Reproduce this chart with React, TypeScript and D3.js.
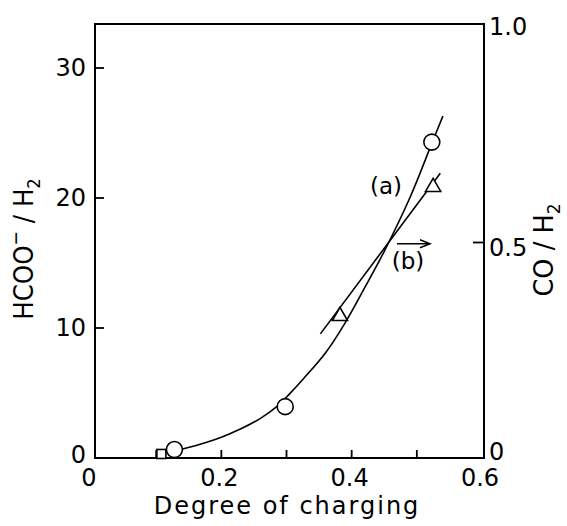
import React from 'react';
import * as d3 from 'd3';

// ---- data ----
const xTicks = [0.1, 0.2, 0.3, 0.4, 0.5];
const xTickLabels = [0, 0.2, 0.4, 0.6];
const leftTicks = [10, 20, 30];
const leftTickLabels = [0, 10, 20, 30];
const rightTicks = [0.5];
const rightTickLabels = [0, 0.5, 1.0];

// HCOO-/H2 (left axis), open circles
const circleX = [0.128, 0.298, 0.523];
const circleY = [0.65, 3.95, 24.3];
// open square (left axis)
const squareX = [0.108];
const squareY = [0.31];
// CO/H2 (right axis), open triangles
const triX = [0.382, 0.525];
const triY = [0.33, 0.628];

// curve (a) (left axis)
const curveAX = [0.128, 0.16, 0.2, 0.23, 0.26, 0.285, 0.305, 0.326, 0.36, 0.39, 0.42, 0.45, 0.49, 0.523, 0.54];
const curveAY = [0.55, 0.95, 1.6, 2.25, 3.05, 3.95, 4.95, 6.1, 8.1, 10.4, 13.1, 15.9, 20.1, 24.2, 26.3];
// line (b), right axis
const lineBX = [0.352, 0.536];
const lineBY = [0.289, 0.66];

// annotations
const labelA = { x: 0.4527, y: 20.85, text: '(a)' };
const labelB = { x: 0.4864, y: 0.455, text: '(b)' };
const arrowB = { x0: 0.4695, x1: 0.5202, y: 0.497 };

const W = 567;
const H = 526;
const FRAME = { l: 95, r: 484, t: 24, b: 458 };
const FONT = 'DejaVu Sans';
// vertical nudges of tick labels (px), as typeset in the original
const leftLabelNudge = [-3, 0, 0, 0];
const rightLabelNudge = [-7, 5, 1];

export default function App() {
  const x = d3.scaleLinear().domain([0, 0.6]).range([91, 482]);
  const yL = d3.scaleLinear().domain([0, 30]).range([458, 68]);
  const yR = d3.scaleLinear().domain([0, 1]).range([459, 26]);

  const curveA = d3
    .line<number>()
    .x((_, i) => x(curveAX[i]))
    .y((_, i) => yL(curveAY[i]))
    .curve(d3.curveCatmullRom.alpha(0.5))(curveAX);
  const lineB = d3
    .line<number>()
    .x((_, i) => x(lineBX[i]))
    .y((_, i) => yR(lineBY[i]))(lineBX);

  const tri = d3.symbol(d3.symbolTriangle, 100)();

  const ax0 = x(arrowB.x0);
  const ax1 = x(arrowB.x1);
  const ay = yR(arrowB.y);

  return (
    <svg width={W} height={H} style={{ display: 'block', position: 'absolute', left: 0, top: 0 }}>
      <rect x={0} y={0} width={W} height={H} fill="#fff" />
      <g fontFamily={FONT} fill="#000">
        {/* frame */}
        <rect
          x={FRAME.l}
          y={FRAME.t}
          width={FRAME.r - FRAME.l}
          height={FRAME.b - FRAME.t}
          fill="none"
          stroke="#000"
          strokeWidth={2}
        />
        {/* ticks */}
        {xTicks.map((t) => (
          <line key={'xt' + t} x1={x(t)} x2={x(t)} y1={FRAME.b} y2={FRAME.b - 8} stroke="#000" strokeWidth={1.8} />
        ))}
        {leftTicks.map((t) => (
          <line key={'lt' + t} x1={FRAME.l} x2={FRAME.l + 9} y1={yL(t)} y2={yL(t)} stroke="#000" strokeWidth={1.8} />
        ))}
        {rightTicks.map((t) => (
          <line key={'rt' + t} x1={FRAME.r} x2={FRAME.r - 11} y1={yR(t)} y2={yR(t)} stroke="#000" strokeWidth={1.8} />
        ))}
        {/* tick labels */}
        {xTickLabels.map((t) => (
          <text key={'xl' + t} x={x(t) - 2} y={485.5} fontSize={24} textAnchor="middle">
            {String(t)}
          </text>
        ))}
        {leftTickLabels.map((t, i) => (
          <text key={'ll' + t} x={86} y={yL(t) + leftLabelNudge[i]} dy="0.35em" fontSize={24} textAnchor="end">
            {String(t)}
          </text>
        ))}
        {rightTickLabels.map((t, i) => (
          <text key={'rl' + t} x={489} y={yR(t) + rightLabelNudge[i]} dy="0.35em" fontSize={24} textAnchor="start">
            {t === 1 ? '1.0' : String(t)}
          </text>
        ))}
        {/* axis titles */}
        <text x={287} y={514} fontSize={24} textAnchor="middle" letterSpacing={2}>
          Degree of charging
        </text>
        <text transform="translate(33,249) rotate(-90) scale(0.91,1)" fontSize={27} textAnchor="middle">
          HCOO
          <tspan fontSize={19} dy={-11}>−</tspan>
          <tspan fontSize={27} dy={11}> / H</tspan>
          <tspan fontSize={18} dy={7}>2</tspan>
        </text>
        <text transform="translate(553,250) rotate(-90) scale(0.95,1)" fontSize={27} textAnchor="middle">
          CO / H
          <tspan fontSize={18} dy={7}>2</tspan>
        </text>

        {/* curves */}
        <path d={curveA || ''} fill="none" stroke="#000" strokeWidth={1.6} />
        <path d={lineB || ''} fill="none" stroke="#000" strokeWidth={1.6} />

        {/* markers */}
        {squareX.map((v, i) => (
          <rect
            key={'sq' + i}
            x={x(v) - 4.5}
            y={yL(squareY[i]) - 4.5}
            width={9}
            height={9}
            fill="#fff"
            stroke="#000"
            strokeWidth={1.6}
          />
        ))}
        {circleX.map((v, i) => (
          <circle key={'c' + i} cx={x(v)} cy={yL(circleY[i])} r={8} fill="#fff" stroke="#000" strokeWidth={1.6} />
        ))}
        {triX.map((v, i) => (
          <path
            key={'t' + i}
            d={tri || ''}
            transform={`translate(${x(v)},${yR(triY[i])})`}
            fill="#fff"
            stroke="#000"
            strokeWidth={1.6}
          />
        ))}

        {/* annotations */}
        <text x={x(labelA.x)} y={yL(labelA.y)} dy="0.3em" fontSize={23} textAnchor="middle">
          {labelA.text}
        </text>
        <text x={x(labelB.x)} y={yR(labelB.y)} dy="0.3em" fontSize={23} textAnchor="middle">
          {labelB.text}
        </text>
        <line x1={ax0} x2={ax1} y1={ay} y2={ay} stroke="#000" strokeWidth={1.5} />
        <path
          d={`M${ax1 - 10},${ay - 4} L${ax1},${ay} L${ax1 - 10},${ay + 4}`}
          fill="none"
          stroke="#000"
          strokeWidth={1.5}
        />
      </g>
    </svg>
  );
}
